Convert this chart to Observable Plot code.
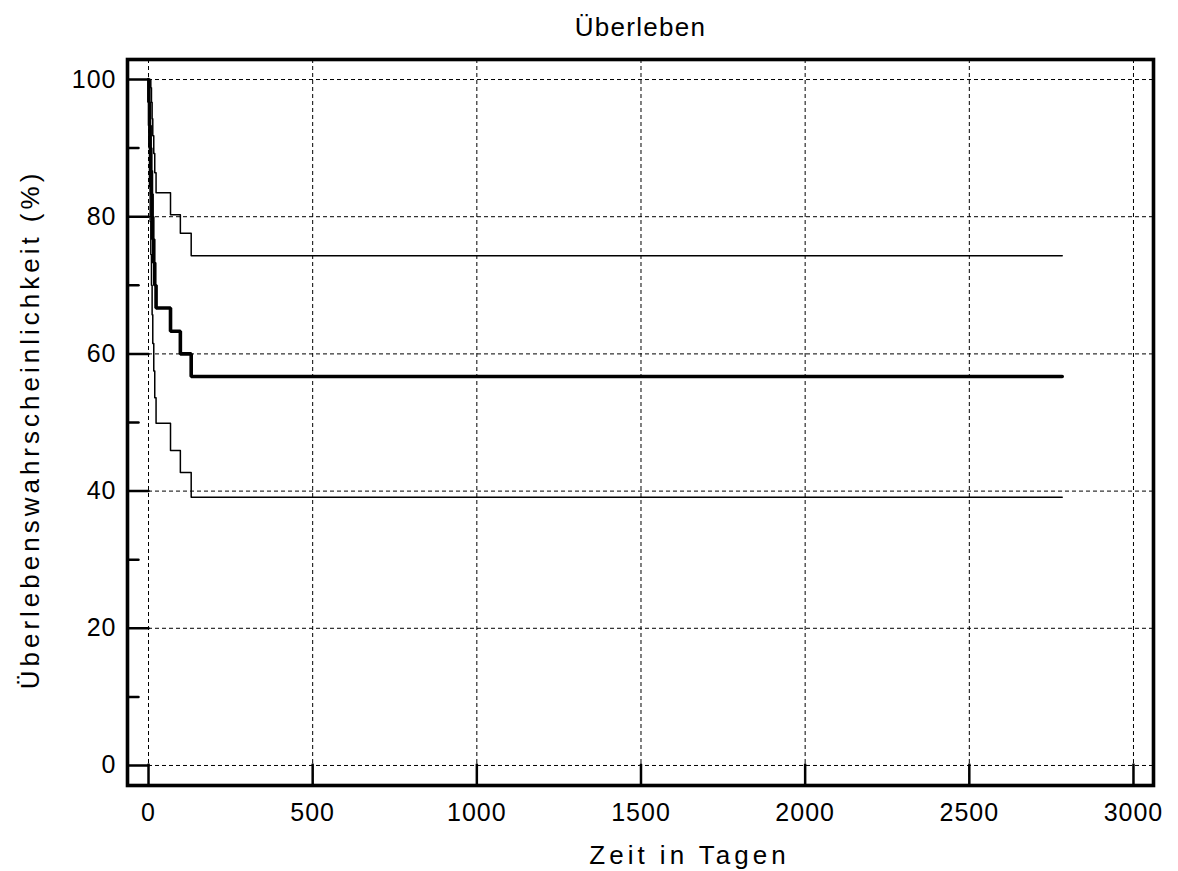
<!DOCTYPE html>
<html>
<head>
<meta charset="utf-8">
<script src="https://cdn.jsdelivr.net/npm/d3@7"></script>
<script src="https://cdn.jsdelivr.net/npm/@observablehq/plot@0.6"></script>
<style>
  body { margin: 0; background: #fff; }
  #chart svg { display: block; }
</style>
</head>
<body>
<div id="chart"></div>
<script>
// Kaplan–Meier survival estimate with confidence bounds
const days     = [0, 1, 3, 5, 7, 9, 11, 13, 16, 19, 23, 67, 97, 130, 2783];
const survival = [100, 96.7, 93.3, 90, 86.7, 83.3, 80, 76.7, 73.3, 70, 66.7, 63.3, 60, 56.7, 56.7];
const upper    = [100, 100, 100, 100, 98.8, 96.7, 94.3, 91.8, 89.2, 86.4, 83.5, 80.3, 77.6, 74.3, 74.3];
const lower    = [100, 90.2, 84.4, 79.3, 74.5, 70.0, 65.7, 61.5, 57.5, 53.6, 49.9, 45.9, 42.7, 39.1, 39.1];

const xTicks = [0, 500, 1000, 1500, 2000, 2500, 3000];
const yTicks = [0, 20, 40, 60, 80, 100];
const yMinorTicks = [10, 30, 50, 70, 90];

const title = "Überleben";
const xLabel = "Zeit in Tagen";
const yLabel = "Überlebenswahrscheinlichkeit (%)";

const rows = days.map((d, i) => ({day: d, s: survival[i], hi: upper[i], lo: lower[i]}));

const font = "'Liberation Sans', Arial, sans-serif";
const tickLine = {draw(context, l) { context.moveTo(0, 0); context.lineTo(0, -l); }};

const chart = Plot.plot({
  width: 1178,
  height: 871,
  marginLeft: 127,
  marginRight: 25,
  marginTop: 59,
  marginBottom: 86,
  style: {fontFamily: font, fontSize: "25px", color: "#000", background: "#fff"},
  x: {domain: [-64, 3061], label: null},
  y: {domain: [-2.92, 102.92], label: null},
  marks: [
    Plot.gridX(xTicks, {stroke: "#000", strokeOpacity: 1, strokeWidth: 1, strokeDasharray: "4,3"}),
    Plot.gridY(yTicks, {stroke: "#000", strokeOpacity: 1, strokeWidth: 1, strokeDasharray: "4,3"}),
    Plot.lineY(rows, {x: "day", y: "hi", curve: "step-after", stroke: "#000", strokeWidth: 1.5}),
    Plot.lineY(rows, {x: "day", y: "lo", curve: "step-after", stroke: "#000", strokeWidth: 1.5}),
    Plot.lineY(rows, {x: "day", y: "s", curve: "step-after", stroke: "#000", strokeWidth: 3.6, strokeLinejoin: "miter"}),
    Plot.vector(xTicks, {x: d => d, frameAnchor: "bottom", rotate: 0, length: 21, anchor: "start", shape: tickLine, stroke: "#000", strokeWidth: 2.5}),
    Plot.vector(yTicks, {y: d => d, frameAnchor: "left", rotate: 90, length: 21, anchor: "start", shape: tickLine, stroke: "#000", strokeWidth: 2.5}),
    Plot.vector(yMinorTicks, {y: d => d, frameAnchor: "left", rotate: 90, length: 11, anchor: "start", shape: tickLine, stroke: "#000", strokeWidth: 2.5}),
    Plot.frame({stroke: "#000", strokeWidth: 3.6}),
    Plot.axisX(xTicks, {tickSize: 0, tickPadding: 18, fontSize: 25, label: null, tickFormat: d3.format("d")}),
    Plot.axisY(yTicks, {tickSize: 0, tickPadding: 11, fontSize: 25, label: null, tickFormat: d3.format("d")}),
    Plot.text([title], {frameAnchor: "top", dy: -32, fontSize: 26, lineAnchor: "middle", textAnchor: "middle"}),
    Plot.text([xLabel], {frameAnchor: "bottom", dx: 49, dy: 70, fontSize: 26, lineAnchor: "middle", textAnchor: "middle"}),
    Plot.text([yLabel], {frameAnchor: "left", dx: -97, dy: 7, rotate: -90, fontSize: 26, lineAnchor: "middle", textAnchor: "middle"})
  ]
});

// wider letter spacing, as in the reference rendering
d3.select(chart).selectAll("text").each(function() {
  const t = this.textContent;
  let ls = 1;
  if (t === xLabel || t === yLabel) ls = 4;
  else if (t === title) ls = 1.3;
  this.style.letterSpacing = ls + "px";
});

document.getElementById("chart").appendChild(chart);
</script>
</body>
</html>
